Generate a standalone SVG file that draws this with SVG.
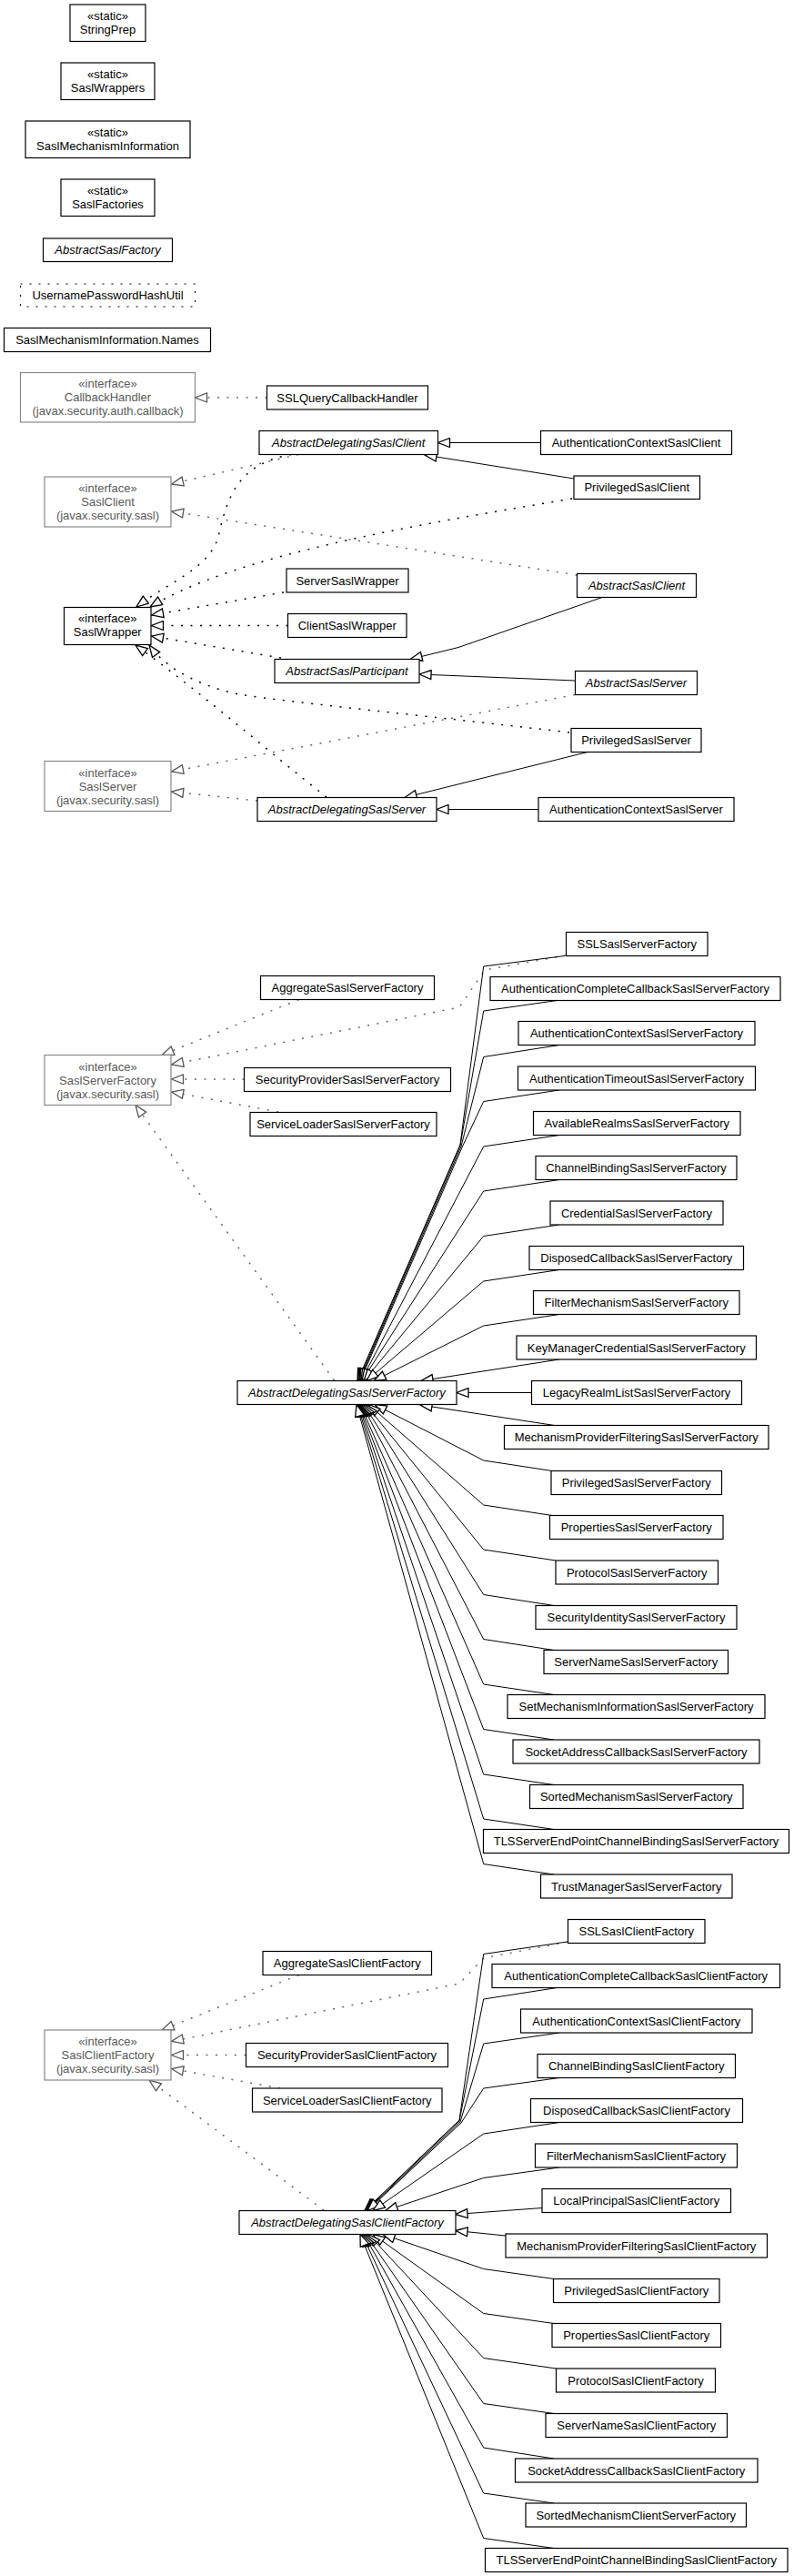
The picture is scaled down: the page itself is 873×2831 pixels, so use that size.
<svg xmlns="http://www.w3.org/2000/svg" width="873" height="2831" viewBox="0 0 873 2831">
<style>
text{font-family:"Liberation Sans",Arial,Helvetica,sans-serif;font-size:13px;text-anchor:middle;fill:#000}
.n rect{fill:#fff;stroke:#000;stroke-width:1.2}
.i rect{fill:#fff;stroke:#888;stroke-width:1.2}
.i text{fill:#5a5a5a}
.a text{font-style:italic}
.u rect{fill:#fff;stroke:#000;stroke-width:1.2;stroke-dasharray:2 8}
.e{fill:none;stroke:#000;stroke-width:1;marker-end:url(#t)}
.d{fill:none;stroke:#000;stroke-width:1.5;stroke-dasharray:2 8.5;marker-end:url(#t)}
.g{fill:none;stroke:#666;stroke-width:1.5;stroke-dasharray:2 8.5;marker-end:url(#tg)}
</style>
<defs>
<marker id="t" viewBox="-1 -1 15 12" refX="13" refY="5" markerWidth="15" markerHeight="12" markerUnits="userSpaceOnUse" orient="auto"><path d="M0,0 L13,5 L0,10 Z" fill="#fff" stroke="#000" stroke-width="1.3"/></marker>
<marker id="tg" viewBox="-1 -1 15 12" refX="13" refY="5" markerWidth="15" markerHeight="12" markerUnits="userSpaceOnUse" orient="auto"><path d="M0,0 L13,5 L0,10 Z" fill="#fff" stroke="#555" stroke-width="1.3"/></marker>
</defs>
<rect width="873" height="2831" fill="#fff"/>

<g id="edges">
<path class="g" d="M293.5 437 L214.5 437"/>
<path class="e" d="M594.5 486.5 L481.5 486.5"/>
<path class="e" d="M631 526 L467 500"/>
<path class="g" d="M328 499.5 L188.5 532"/>
<path class="d" d="M320 499.5 C262 510 250 545 240 590 C230 625 185 640 150 667"/>
<path class="d" d="M629 548 C450 578 260 610 165 667"/>
<path class="g" d="M634.5 632 L188.5 562"/>
<path class="d" d="M312 651 L166.5 676"/>
<path class="d" d="M316.5 687.5 L166.5 687.5"/>
<path class="d" d="M309 723 L166.5 699"/>
<path class="e" d="M662 656.5 L504 711.5 L451 724.5"/>
<path class="e" d="M632.5 748 L461 741"/>
<path class="d" d="M626 805 C500 790 320 772 262 763 C225 755 185 738 164 709"/>
<path class="d" d="M359 876 C300 830 220 760 149 709"/>
<path class="g" d="M632 763.5 L188.5 848"/>
<path class="g" d="M283 880 L188.5 870"/>
<path class="e" d="M646 826.5 L445 876.5"/>
<path class="e" d="M592 889.5 L480 889.5"/>

<path class="g" d="M328.5 1098.5 L178 1159.5"/>
<path class="g" d="M622.5 1050 L533 1066 L505 1107 L188.5 1170"/>
<path class="g" d="M268.5 1186 L188.5 1186"/>
<path class="g" d="M306 1222 L188.5 1200"/>
<path class="g" d="M367.5 1517 L149 1214.5"/>
<path class="e" d="M621 1050.5 L531.7 1062 L506 1258 L393 1517.5"/>
<path class="e" d="M612.5 1099.5 L531.7 1111 L506 1259 L394 1517.5"/>
<path class="e" d="M615 1148.5 L531.7 1161.5 L507 1260 L395 1517.5"/>
<path class="e" d="M615 1198 L531.7 1210.5 L508 1261 L396 1517.5"/>
<path class="e" d="M615 1247.5 L531.7 1260 L397 1517.5"/>
<path class="e" d="M615 1296.5 L531.7 1309 L398 1517.5"/>
<path class="e" d="M615 1346 L531.7 1358.5 L400 1517.5"/>
<path class="e" d="M615 1395.5 L531.7 1408 L403 1517.5"/>
<path class="e" d="M615 1444.5 L531.7 1457 L411 1517.5"/>
<path class="e" d="M615 1494 L463 1517.5"/>
<path class="e" d="M584.5 1530.5 L502 1530.5"/>
<path class="e" d="M609.7 1566.5 L462 1544"/>
<path class="e" d="M607 1616.5 L531.7 1605 L412 1543.5"/>
<path class="e" d="M607 1665.5 L531.7 1654 L405 1543.5"/>
<path class="e" d="M611 1715 L531.7 1703 L402 1543.5"/>
<path class="e" d="M609 1764.5 L531.7 1752.5 L400 1543.5"/>
<path class="e" d="M609 1813.5 L531.7 1801.5 L398 1543.5"/>
<path class="e" d="M609 1862.5 L531.7 1851 L396 1543.5"/>
<path class="e" d="M609 1912 L531.7 1900.5 L395 1543.5"/>
<path class="e" d="M609 1961.5 L531.7 1950 L394 1543.5"/>
<path class="e" d="M609 2010.5 L531.7 1999 L393 1543.5"/>
<path class="e" d="M609 2060 L531.7 2048.5 L392 1543.5"/>

<path class="g" d="M328.5 2170.5 L178 2231"/>
<path class="g" d="M624.5 2134 L531.7 2152 L505 2180 L188.5 2243.5"/>
<path class="g" d="M270.5 2258.5 L188.5 2258.5"/>
<path class="g" d="M308 2295 L188.5 2273.5"/>
<path class="g" d="M356 2429 L164 2286"/>
<path class="e" d="M623.5 2134 L531.7 2147.5 L505 2330 L401 2429.5"/>
<path class="e" d="M612.5 2184.5 L531.7 2197 L505 2331 L402 2429.5"/>
<path class="e" d="M615 2234 L531.7 2246 L506 2332 L403 2429.5"/>
<path class="e" d="M615 2283.5 L531.7 2295 L507 2333 L404 2429.5"/>
<path class="e" d="M615 2332.5 L531.7 2345 L410 2429.5"/>
<path class="e" d="M615 2382 L531.7 2393.5 L424 2429.5"/>
<path class="e" d="M596 2426.5 L501 2433.5"/>
<path class="e" d="M556 2457 L501 2451.5"/>
<path class="e" d="M609 2504.5 L531.7 2493.5 L421 2455.5"/>
<path class="e" d="M609 2553.5 L531.7 2542.5 L410 2455.5"/>
<path class="e" d="M611.5 2603 L531.7 2591.5 L405 2455.5"/>
<path class="e" d="M609 2652.5 L531.7 2641.5 L402 2455.5"/>
<path class="e" d="M609 2702 L531.7 2690 L400 2455.5"/>
<path class="e" d="M609 2751 L531.7 2740 L398 2455.5"/>
<path class="e" d="M609 2800.5 L531.7 2789.5 L396 2455.5"/>
</g>

<g id="StringPrep" class="n"><rect x="77" y="5" width="83" height="40.5"/><text x="118.5" y="21.5">«static»</text><text x="118.5" y="36.5">StringPrep</text></g>
<g id="SaslWrappers" class="n"><rect x="67" y="69" width="103" height="40.5"/><text x="118.5" y="85.5">«static»</text><text x="118.5" y="100.5">SaslWrappers</text></g>
<g id="SaslMechanismInformation" class="n"><rect x="28" y="133" width="181" height="40.5"/><text x="118.5" y="149.5">«static»</text><text x="118.5" y="164.5">SaslMechanismInformation</text></g>
<g id="SaslFactories" class="n"><rect x="67" y="197" width="103" height="40.5"/><text x="118.5" y="213.5">«static»</text><text x="118.5" y="228.5">SaslFactories</text></g>
<g id="AbstractSaslFactory" class="n a"><rect x="47.5" y="262" width="142" height="25.5"/><text x="118.5" y="279.3">AbstractSaslFactory</text></g>
<g id="UsernamePasswordHashUtil" class="u"><rect x="22.5" y="312" width="192" height="25"/><text x="118.5" y="329">UsernamePasswordHashUtil</text></g>
<g id="SaslMechanismInformation.Names" class="n"><rect x="4.5" y="360.5" width="227" height="26"/><text x="118" y="378">SaslMechanismInformation.Names</text></g>

<g id="CallbackHandler" class="i"><rect x="22.5" y="409.5" width="192" height="54.5"/><text x="118.5" y="426.2">«interface»</text><text x="118.5" y="441.2">CallbackHandler</text><text x="118.5" y="456.2">(javax.security.auth.callback)</text></g>
<g id="SSLQueryCallbackHandler" class="n"><rect x="293.5" y="424" width="177" height="26"/><text x="382" y="441.5">SSLQueryCallbackHandler</text></g>
<g id="AbstractDelegatingSaslClient" class="n a"><rect x="285" y="473.5" width="196.5" height="26"/><text x="383.25" y="491">AbstractDelegatingSaslClient</text></g>
<g id="AuthenticationContextSaslClient" class="n"><rect x="594.5" y="473.5" width="210" height="26"/><text x="699.5" y="491">AuthenticationContextSaslClient</text></g>
<g id="SaslClient" class="i"><rect x="49" y="524" width="139" height="55"/><text x="118.5" y="541">«interface»</text><text x="118.5" y="556">SaslClient</text><text x="118.5" y="571">(javax.security.sasl)</text></g>
<g id="PrivilegedSaslClient" class="n"><rect x="631" y="523" width="138.5" height="25.5"/><text x="700.25" y="540.3">PrivilegedSaslClient</text></g>
<g id="ServerSaslWrapper" class="n"><rect x="315" y="625" width="134" height="26"/><text x="382" y="642.5">ServerSaslWrapper</text></g>
<g id="AbstractSaslClient" class="n a"><rect x="634.5" y="630.5" width="131" height="26"/><text x="700" y="648">AbstractSaslClient</text></g>
<g id="SaslWrapper" class="n"><rect x="70.5" y="667.5" width="95.5" height="41"/><text x="118.25" y="684.2">«interface»</text><text x="118.25" y="699.2">SaslWrapper</text></g>
<g id="ClientSaslWrapper" class="n"><rect x="316.5" y="674.5" width="130.5" height="26"/><text x="381.75" y="692">ClientSaslWrapper</text></g>
<g id="AbstractSaslParticipant" class="n a"><rect x="302" y="724.5" width="159" height="26"/><text x="381.5" y="742">AbstractSaslParticipant</text></g>
<g id="AbstractSaslServer" class="n a"><rect x="632.5" y="737.5" width="134" height="26"/><text x="699.5" y="755">AbstractSaslServer</text></g>
<g id="PrivilegedSaslServer" class="n"><rect x="628" y="800.5" width="143" height="26"/><text x="699.5" y="818">PrivilegedSaslServer</text></g>
<g id="SaslServer" class="i"><rect x="49" y="836.5" width="139" height="55"/><text x="118.5" y="853.5">«interface»</text><text x="118.5" y="868.5">SaslServer</text><text x="118.5" y="883.5">(javax.security.sasl)</text></g>
<g id="AbstractDelegatingSaslServer" class="n a"><rect x="283" y="876.5" width="197" height="26"/><text x="381.5" y="894">AbstractDelegatingSaslServer</text></g>
<g id="AuthenticationContextSaslServer" class="n"><rect x="592" y="876.5" width="215" height="26"/><text x="699.5" y="894">AuthenticationContextSaslServer</text></g>

<g id="SSLSaslServerFactory" class="n"><rect x="622.5" y="1024.5" width="155.5" height="26"/><text x="700.25" y="1042">SSLSaslServerFactory</text></g>
<g id="AggregateSaslServerFactory" class="n"><rect x="286.5" y="1072.5" width="191" height="26"/><text x="382" y="1090">AggregateSaslServerFactory</text></g>
<g id="AuthenticationCompleteCallbackSaslServerFactory" class="n"><rect x="539" y="1073.5" width="319" height="26"/><text x="698.5" y="1091">AuthenticationCompleteCallbackSaslServerFactory</text></g>
<g id="AuthenticationContextSaslServerFactory" class="n"><rect x="570" y="1122.5" width="260" height="26"/><text x="700" y="1140">AuthenticationContextSaslServerFactory</text></g>
<g id="SaslServerFactory" class="i"><rect x="49" y="1159.5" width="139" height="55"/><text x="118.5" y="1176.5">«interface»</text><text x="118.5" y="1191.5">SaslServerFactory</text><text x="118.5" y="1206.5">(javax.security.sasl)</text></g>
<g id="SecurityProviderSaslServerFactory" class="n"><rect x="268.5" y="1173.5" width="227" height="26"/><text x="382" y="1191">SecurityProviderSaslServerFactory</text></g>
<g id="AuthenticationTimeoutSaslServerFactory" class="n"><rect x="569.5" y="1172" width="261" height="26"/><text x="700" y="1189.5">AuthenticationTimeoutSaslServerFactory</text></g>
<g id="ServiceLoaderSaslServerFactory" class="n"><rect x="275" y="1222.5" width="205" height="26"/><text x="377.5" y="1240">ServiceLoaderSaslServerFactory</text></g>
<g id="AvailableRealmsSaslServerFactory" class="n"><rect x="586.5" y="1221.5" width="227.5" height="26"/><text x="700.25" y="1239">AvailableRealmsSaslServerFactory</text></g>
<g id="ChannelBindingSaslServerFactory" class="n"><rect x="589" y="1270.5" width="221" height="26"/><text x="699.5" y="1288">ChannelBindingSaslServerFactory</text></g>
<g id="CredentialSaslServerFactory" class="n"><rect x="605" y="1320" width="190" height="26"/><text x="700" y="1337.5">CredentialSaslServerFactory</text></g>
<g id="DisposedCallbackSaslServerFactory" class="n"><rect x="582" y="1369.5" width="235.5" height="26"/><text x="699.75" y="1387">DisposedCallbackSaslServerFactory</text></g>
<g id="FilterMechanismSaslServerFactory" class="n"><rect x="586.5" y="1418.5" width="226.5" height="26"/><text x="699.75" y="1436">FilterMechanismSaslServerFactory</text></g>
<g id="KeyManagerCredentialSaslServerFactory" class="n"><rect x="568" y="1468" width="263.5" height="26"/><text x="699.75" y="1485.5">KeyManagerCredentialSaslServerFactory</text></g>
<g id="AbstractDelegatingSaslServerFactory" class="n a"><rect x="261" y="1517.5" width="241" height="26"/><text x="381.5" y="1535">AbstractDelegatingSaslServerFactory</text></g>
<g id="LegacyRealmListSaslServerFactory" class="n"><rect x="584.5" y="1517.5" width="231" height="26"/><text x="700" y="1535">LegacyRealmListSaslServerFactory</text></g>
<g id="MechanismProviderFilteringSaslServerFactory" class="n"><rect x="554.5" y="1566.5" width="290.5" height="26"/><text x="699.75" y="1584">MechanismProviderFilteringSaslServerFactory</text></g>
<g id="PrivilegedSaslServerFactory" class="n"><rect x="606" y="1616.5" width="187.5" height="26"/><text x="699.75" y="1634">PrivilegedSaslServerFactory</text></g>
<g id="PropertiesSaslServerFactory" class="n"><rect x="604.5" y="1665.5" width="190.5" height="26"/><text x="699.75" y="1683">PropertiesSaslServerFactory</text></g>
<g id="ProtocolSaslServerFactory" class="n"><rect x="611" y="1715" width="178.5" height="26"/><text x="700.25" y="1732.5">ProtocolSaslServerFactory</text></g>
<g id="SecurityIdentitySaslServerFactory" class="n"><rect x="589" y="1764.5" width="221" height="26"/><text x="699.5" y="1782">SecurityIdentitySaslServerFactory</text></g>
<g id="ServerNameSaslServerFactory" class="n"><rect x="598" y="1813.5" width="202.5" height="26"/><text x="699.25" y="1831">ServerNameSaslServerFactory</text></g>
<g id="SetMechanismInformationSaslServerFactory" class="n"><rect x="558" y="1862.5" width="283" height="26"/><text x="699.5" y="1880">SetMechanismInformationSaslServerFactory</text></g>
<g id="SocketAddressCallbackSaslServerFactory" class="n"><rect x="564" y="1912" width="271" height="26"/><text x="699.5" y="1929.5">SocketAddressCallbackSaslServerFactory</text></g>
<g id="SortedMechanismSaslServerFactory" class="n"><rect x="582.5" y="1961.5" width="234.5" height="26"/><text x="699.75" y="1979">SortedMechanismSaslServerFactory</text></g>
<g id="TLSServerEndPointChannelBindingSaslServerFactory" class="n"><rect x="531.5" y="2010.5" width="336" height="26"/><text x="699.5" y="2028">TLSServerEndPointChannelBindingSaslServerFactory</text></g>
<g id="TrustManagerSaslServerFactory" class="n"><rect x="594.5" y="2060" width="210.5" height="26"/><text x="699.75" y="2077.5">TrustManagerSaslServerFactory</text></g>

<g id="SSLSaslClientFactory" class="n"><rect x="624.5" y="2109.5" width="150.5" height="26"/><text x="699.75" y="2127">SSLSaslClientFactory</text></g>
<g id="AggregateSaslClientFactory" class="n"><rect x="289" y="2144.5" width="185.5" height="26"/><text x="381.75" y="2162">AggregateSaslClientFactory</text></g>
<g id="AuthenticationCompleteCallbackSaslClientFactory" class="n"><rect x="541" y="2158.5" width="316.5" height="26"/><text x="699.25" y="2176">AuthenticationCompleteCallbackSaslClientFactory</text></g>
<g id="AuthenticationContextSaslClientFactory" class="n"><rect x="572.5" y="2208" width="254.5" height="26"/><text x="699.75" y="2225.5">AuthenticationContextSaslClientFactory</text></g>
<g id="SaslClientFactory" class="i"><rect x="49" y="2231" width="139" height="55"/><text x="118.5" y="2248">«interface»</text><text x="118.5" y="2263">SaslClientFactory</text><text x="118.5" y="2278">(javax.security.sasl)</text></g>
<g id="SecurityProviderSaslClientFactory" class="n"><rect x="270.5" y="2245.5" width="222" height="26"/><text x="381.5" y="2263">SecurityProviderSaslClientFactory</text></g>
<g id="ChannelBindingSaslClientFactory" class="n"><rect x="591" y="2257.5" width="217.5" height="26"/><text x="699.75" y="2275">ChannelBindingSaslClientFactory</text></g>
<g id="ServiceLoaderSaslClientFactory" class="n"><rect x="277.5" y="2295" width="208.5" height="26"/><text x="381.75" y="2312.5">ServiceLoaderSaslClientFactory</text></g>
<g id="DisposedCallbackSaslClientFactory" class="n"><rect x="583.5" y="2306.5" width="233" height="26"/><text x="700" y="2324">DisposedCallbackSaslClientFactory</text></g>
<g id="FilterMechanismSaslClientFactory" class="n"><rect x="588.5" y="2356" width="222" height="26"/><text x="699.5" y="2373.5">FilterMechanismSaslClientFactory</text></g>
<g id="LocalPrincipalSaslClientFactory" class="n"><rect x="596" y="2405.5" width="207.5" height="26"/><text x="699.75" y="2423">LocalPrincipalSaslClientFactory</text></g>
<g id="AbstractDelegatingSaslClientFactory" class="n a"><rect x="263" y="2429.5" width="238" height="26"/><text x="382" y="2447">AbstractDelegatingSaslClientFactory</text></g>
<g id="MechanismProviderFilteringSaslClientFactory" class="n"><rect x="556" y="2455" width="287.5" height="26"/><text x="699.75" y="2472.5">MechanismProviderFilteringSaslClientFactory</text></g>
<g id="PrivilegedSaslClientFactory" class="n"><rect x="608.5" y="2504.5" width="182.5" height="26"/><text x="699.75" y="2522">PrivilegedSaslClientFactory</text></g>
<g id="PropertiesSaslClientFactory" class="n"><rect x="607" y="2553.5" width="185.5" height="26"/><text x="699.75" y="2571">PropertiesSaslClientFactory</text></g>
<g id="ProtocolSaslClientFactory" class="n"><rect x="611.5" y="2603" width="175" height="26"/><text x="699" y="2620.5">ProtocolSaslClientFactory</text></g>
<g id="ServerNameSaslClientFactory" class="n"><rect x="600" y="2652.5" width="199.5" height="26"/><text x="699.75" y="2670">ServerNameSaslClientFactory</text></g>
<g id="SocketAddressCallbackSaslClientFactory" class="n"><rect x="566.5" y="2702" width="266.5" height="26"/><text x="699.75" y="2719.5">SocketAddressCallbackSaslClientFactory</text></g>
<g id="SortedMechanismClientServerFactory" class="n"><rect x="578" y="2751" width="242.5" height="26"/><text x="699.25" y="2768.5">SortedMechanismClientServerFactory</text></g>
<g id="TLSServerEndPointChannelBindingSaslClientFactory" class="n"><rect x="533.5" y="2800.5" width="332.5" height="26"/><text x="699.75" y="2818">TLSServerEndPointChannelBindingSaslClientFactory</text></g>
</svg>
